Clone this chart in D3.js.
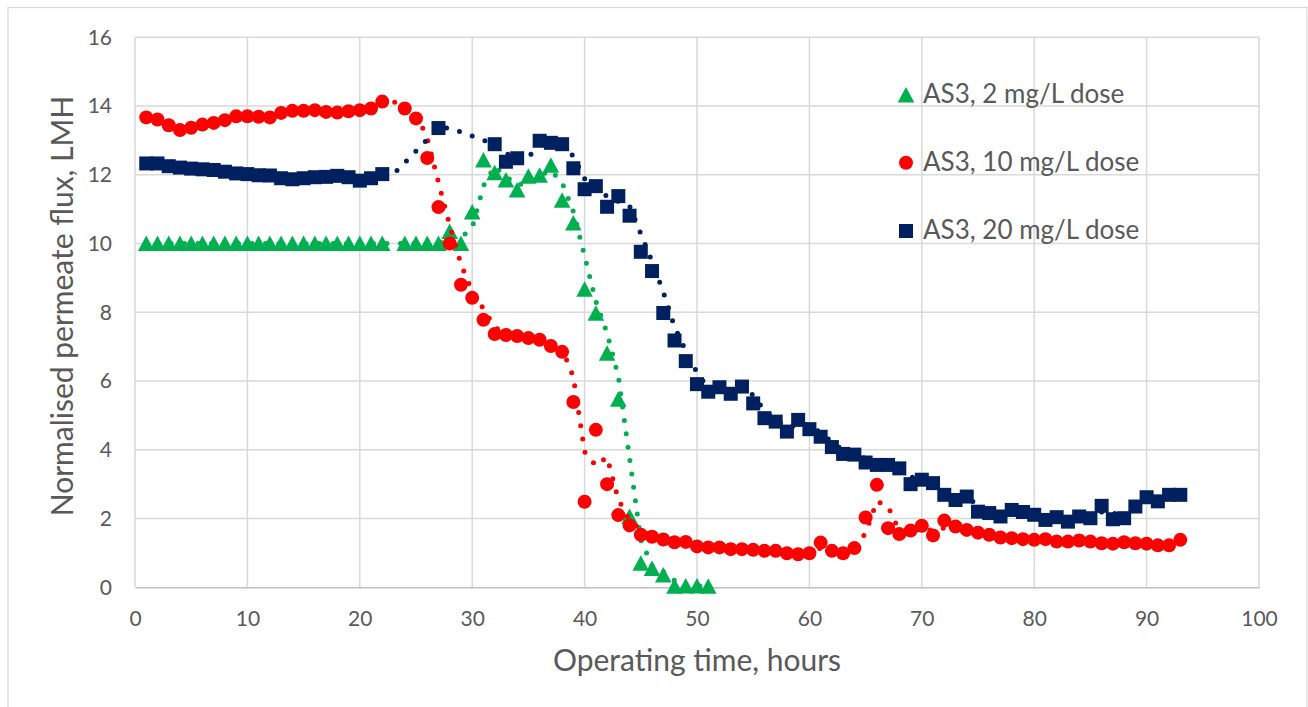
<!DOCTYPE html>
<html>
<head>
<meta charset="utf-8">
<script src="https://cdn.jsdelivr.net/npm/d3@7"></script>
<style>
  body { margin: 0; background: #fff; }
  text { font-family: Lato, "Noto Sans", sans-serif; fill: #595959; }
</style>
</head>
<body>
<div id="viz"></div>
<script>
var width = 1308;
var height = 707;

// operating time, hours
var hours = d3.range(1, 94);

// normalised permeate flux, LMH (null = no reading)
var dose2 = [10, 10, 10, 10, 10, 10, 10, 10, 10, 10,
  10, 10, 10, 10, 10, 10, 10, 10, 10, 10,
  10, 10, null, 10, 10, 10, 10, 10.35, 10.0, 10.92,
  12.43, 12.06, 11.85, 11.56, 11.96, 11.99, 12.28, 11.26, 10.6, 8.67,
  7.97, 6.81, 5.47, 2.06, 0.7, 0.55, 0.36, 0.03, 0.04, 0.04,
  0.03];

var dose10 = [13.67, 13.61, 13.44, 13.3, 13.37, 13.46, 13.51, 13.59, 13.7, 13.7,
  13.69, 13.67, 13.8, 13.86, 13.86, 13.88, 13.83, 13.81, 13.85, 13.88,
  13.93, 14.13, null, 13.93, 13.64, 12.49, 11.06, 10.0, 8.8, 8.42,
  7.78, 7.37, 7.34, 7.31, 7.25, 7.2, 7.02, 6.85, 5.39, 2.49,
  4.58, 3.0, 2.1, 1.8, 1.53, 1.47, 1.39, 1.31, 1.32, 1.19,
  1.16, 1.16, 1.11, 1.11, 1.09, 1.06, 1.06, 0.99, 0.96, 0.99,
  1.3, 1.06, 0.99, 1.14, 2.03, 2.98, 1.72, 1.55, 1.65, 1.79,
  1.51, 1.94, 1.77, 1.67, 1.59, 1.53, 1.45, 1.43, 1.4, 1.38,
  1.4, 1.33, 1.33, 1.36, 1.33, 1.28, 1.27, 1.31, 1.28, 1.27,
  1.22, 1.22, 1.38];

var dose20 = [12.33, 12.33, 12.25, 12.21, 12.18, 12.16, 12.14, 12.09, 12.04, 12.02,
  11.99, 11.98, 11.9, 11.87, 11.9, 11.93, 11.94, 11.97, 11.93, 11.83,
  11.9, 12.02, null, null, null, null, 13.36, null, null, null,
  null, 12.89, 12.38, 12.48, null, 12.99, 12.93, 12.89, 12.19, 11.58,
  11.67, 11.07, 11.38, 10.81, 9.76, 9.2, 7.98, 7.18, 6.58, 5.91,
  5.69, 5.82, 5.63, 5.84, 5.35, 4.92, 4.82, 4.53, 4.87, 4.6,
  4.38, 4.08, 3.88, 3.86, 3.63, 3.56, 3.56, 3.46, 3.0, 3.13,
  3.03, 2.69, 2.54, 2.64, 2.2, 2.16, 2.06, 2.25, 2.19, 2.11,
  1.96, 2.04, 1.91, 2.06, 2.01, 2.37, 1.98, 2.01, 2.35, 2.62,
  2.5, 2.69, 2.69];

var seriesNames = ["AS3, 2 mg/L dose", "AS3, 10 mg/L dose", "AS3, 20 mg/L dose"];
var seriesColors = ["#00B050", "#FF0000", "#002060"];
var seriesShapes = ["triangle", "circle", "square"];
var seriesValues = [dose2, dose10, dose20];

var xTicks = d3.range(0, 101, 10);
var yTicks = d3.range(0, 17, 2);

var svg = d3.select("#viz")
  .append("svg")
  .attr("width", width)
  .attr("height", height);

// chart frame
svg.append("rect")
  .attr("x", 8).attr("y", 7.5)
  .attr("width", 1299).attr("height", 730)
  .attr("fill", "none")
  .attr("stroke", "#D9D9D9")
  .attr("stroke-width", 1.2);

var x = d3.scaleLinear().domain([0, 100]).range([135, 1259]);
var y = d3.scaleLinear().domain([0, 16]).range([587.3, 37.3]);

// gridlines
svg.append("g")
  .selectAll("line")
  .data(yTicks.filter(function(d) { return d > 0; }))
  .enter().append("line")
  .attr("x1", x(0)).attr("x2", x(100))
  .attr("y1", function(d) { return y(d); })
  .attr("y2", function(d) { return y(d); })
  .attr("stroke", "#D9D9D9")
  .attr("stroke-width", 1.5);

svg.append("g")
  .selectAll("line")
  .data(xTicks)
  .enter().append("line")
  .attr("x1", function(d) { return x(d); })
  .attr("x2", function(d) { return x(d); })
  .attr("y1", y(16)).attr("y2", y(0))
  .attr("stroke", "#D9D9D9")
  .attr("stroke-width", 1.5);

// x axis
var xAxis = svg.append("g")
  .attr("transform", "translate(0," + y(0) + ")")
  .call(d3.axisBottom(x).tickValues(xTicks).tickSize(0).tickPadding(24));
xAxis.select(".domain").attr("stroke", "#BFBFBF").attr("stroke-width", 1.5);
xAxis.selectAll("text")
  .style("font-size", "21px")
  .style("font-family", "Lato, sans-serif")
  .attr("fill", "#595959");

// y axis
var yAxis = svg.append("g")
  .attr("transform", "translate(" + x(0) + ",0)")
  .call(d3.axisLeft(y).tickValues(yTicks).tickSize(0).tickPadding(23));
yAxis.select(".domain").remove();
yAxis.selectAll("text")
  .style("font-size", "21px")
  .style("font-family", "Lato, sans-serif")
  .attr("fill", "#595959");

// axis titles
svg.append("text")
  .attr("x", 697)
  .attr("y", 671)
  .attr("text-anchor", "middle")
  .style("font-size", "30px")
  .text("Operating time, hours");

svg.append("text")
  .attr("transform", "translate(73,306) rotate(-90)")
  .attr("text-anchor", "middle")
  .style("font-size", "30px")
  .text("Normalised permeate flux, LMH");

// marker shapes
function marker(shape, cx, cy) {
  if (shape == "triangle") {
    return "M" + cx + "," + (cy - 8) + "L" + (cx + 8.3) + "," + (cy + 7.5) +
      "L" + (cx - 8.3) + "," + (cy + 7.5) + "Z";
  }
  if (shape == "square") {
    return "M" + (cx - 7) + "," + (cy - 7) + "h14v14h-14Z";
  }
  return "M" + (cx + 7) + "," + cy + "A7,7 0 1,1 " + (cx - 7) + "," + cy +
    "A7,7 0 1,1 " + (cx + 7) + "," + cy + "Z";
}

// 2-period moving average trendline (empty readings left out of the window)
function movingAverage(vals) {
  var out = [];
  for (var j = 1; j < vals.length; j++) {
    var win = [vals[j - 1], vals[j]].filter(function(v) { return v != null; });
    if (win.length) out.push({ t: hours[j], v: d3.mean(win) });
  }
  return out;
}

var line = d3.line()
  .x(function(d) { return x(d.t); })
  .y(function(d) { return y(d.v); });

seriesValues.forEach(function(vals, i) {
  var pts = vals.map(function(v, j) { return { t: hours[j], v: v }; })
    .filter(function(d) { return d.v != null; });

  var g = svg.append("g");

  g.append("path")
    .datum(movingAverage(vals))
    .attr("d", line)
    .attr("fill", "none")
    .attr("stroke", seriesColors[i])
    .attr("stroke-width", 5)
    .attr("stroke-linecap", "round")
    .attr("stroke-dasharray", "0,13.5");

  g.selectAll(".pt")
    .data(pts)
    .enter().append("path")
    .attr("class", "pt")
    .attr("d", function(d) { return marker(seriesShapes[i], x(d.t), y(d.v)); })
    .attr("fill", seriesColors[i]);
});

// legend
var legendY = [95, 162.7, 231];
var legend = svg.append("g");
seriesNames.forEach(function(name, i) {
  legend.append("path")
    .attr("d", marker(seriesShapes[i], 906, legendY[i]))
    .attr("fill", seriesColors[i]);
  legend.append("text")
    .attr("x", 923)
    .attr("y", legendY[i] + 8)
    .style("font-size", "26px")
    .text(name);
});
</script>
</body>
</html>
